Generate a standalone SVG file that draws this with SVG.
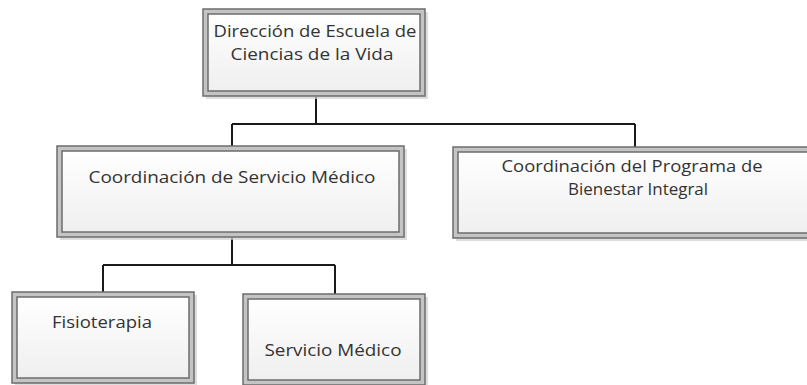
<svg xmlns="http://www.w3.org/2000/svg" width="807" height="385" viewBox="0 0 807 385">
<defs>
<linearGradient id="g" x1="0" y1="0" x2="0" y2="1">
<stop offset="0" stop-color="#ffffff"/>
<stop offset="1" stop-color="#efefef"/>
</linearGradient>
<style>
.sh{fill:#d0d0d0;opacity:0.7}
.out{fill:#c4c4c4;stroke:#6c6c6c;stroke-width:1.5}
.in{fill:url(#g);stroke:#6c6c6c;stroke-width:1.5}
.t{font-family:"Open Sans","Liberation Sans",sans-serif;font-size:16.5px;fill:#333333;text-anchor:middle}
.c{stroke:#1a1a1a;stroke-width:2;fill:none}
</style>
</defs>
<rect width="807" height="385" fill="#ffffff"/>
<g id="connectors">
<path class="c" d="M316 97V124M232 124H635M232 124V146M635 124V147"/>
<path class="c" d="M232 238V265M103 265H335M103 265V292M335 265V294"/>
</g>
<g id="n1">
<rect class="sh" x="206" y="12" width="222" height="87"/>
<rect class="out" x="203" y="9" width="222" height="87"/>
<rect class="in" x="208" y="14" width="212" height="77"/>
<text class="t" x="315" y="37" textLength="203" lengthAdjust="spacingAndGlyphs">Dirección de Escuela de</text>
<text class="t" x="312" y="60" textLength="163" lengthAdjust="spacingAndGlyphs">Ciencias de la Vida</text>
</g>
<g id="n2">
<rect class="sh" x="60" y="149" width="347" height="91"/>
<rect class="out" x="57" y="146" width="347" height="91"/>
<rect class="in" x="62" y="151" width="337" height="81"/>
<text class="t" x="232" y="183" textLength="287" lengthAdjust="spacingAndGlyphs">Coordinación de Servicio Médico</text>
</g>
<g id="n3">
<rect class="sh" x="456" y="150" width="364" height="91"/>
<rect class="out" x="453" y="147" width="364" height="91"/>
<rect class="in" x="458" y="152" width="354" height="81"/>
<text class="t" x="632" y="172" textLength="261" lengthAdjust="spacingAndGlyphs">Coordinación del Programa de</text>
<text class="t" x="638" y="195" textLength="140" lengthAdjust="spacingAndGlyphs">Bienestar Integral</text>
</g>
<g id="n4">
<rect class="sh" x="15" y="295" width="182" height="91"/>
<rect class="out" x="12" y="292" width="182" height="91"/>
<rect class="in" x="17" y="297" width="172" height="81"/>
<text class="t" x="102" y="328" textLength="100" lengthAdjust="spacingAndGlyphs">Fisioterapia</text>
</g>
<g id="n5">
<rect class="sh" x="246" y="297" width="182" height="91"/>
<rect class="out" x="243" y="294" width="182" height="91"/>
<rect class="in" x="248" y="299" width="172" height="81"/>
<text class="t" x="333" y="356" textLength="137" lengthAdjust="spacingAndGlyphs">Servicio Médico</text>
</g>
</svg>
